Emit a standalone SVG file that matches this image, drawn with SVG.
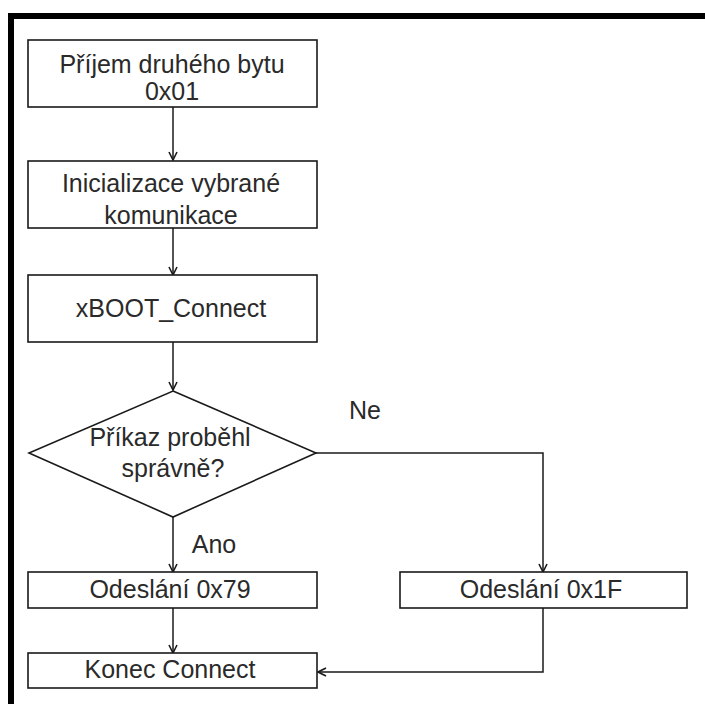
<svg xmlns="http://www.w3.org/2000/svg" width="705" height="704" viewBox="0 0 705 704">
  <style>
    .box { fill: #ffffff; stroke: #1a1a1a; stroke-width: 1.6; }
    .lbl { font-family: "Liberation Sans", Arial, sans-serif; font-size: 25px; fill: #2a2a2a; text-anchor: middle; }
    .wire { fill: none; stroke: #1a1a1a; stroke-width: 1.5; }
  </style>
  <defs>
    <marker id="arrow" viewBox="0 0 10 10" refX="9" refY="5" markerWidth="10" markerHeight="10" markerUnits="userSpaceOnUse" orient="auto">
      <path d="M1,1 L9,5 L1,9" fill="none" stroke="#1a1a1a" stroke-width="1.6"/>
    </marker>
  </defs>

  <rect width="705" height="704" fill="#ffffff"/>

  <!-- outer frame: thick top and left rules -->
  <g id="frame" fill="#000000">
    <rect x="8" y="13" width="697" height="6"/>
    <rect x="8" y="13" width="6" height="691"/>
  </g>

  <!-- connectors -->
  <g id="connectors" class="wire">
    <line x1="173" y1="107" x2="173" y2="160" marker-end="url(#arrow)"/>
    <line x1="173" y1="228" x2="173" y2="275" marker-end="url(#arrow)"/>
    <line x1="173" y1="342" x2="173" y2="390" marker-end="url(#arrow)"/>
    <line x1="173" y1="517" x2="173" y2="572" marker-end="url(#arrow)"/>
    <polyline points="316,453 543,453 543,572" marker-end="url(#arrow)"/>
    <line x1="173" y1="608" x2="173" y2="653" marker-end="url(#arrow)"/>
    <polyline points="543,608 543,672 318,672" marker-end="url(#arrow)"/>
  </g>

  <g id="prijem">
    <rect class="box" x="28" y="40" width="289" height="67"/>
    <text class="lbl" x="172" y="73">Příjem druhého bytu</text>
    <text class="lbl" x="172" y="100">0x01</text>
  </g>

  <g id="inicializace">
    <rect class="box" x="28" y="161" width="289" height="67"/>
    <text class="lbl" x="171" y="192">Inicializace vybrané</text>
    <text class="lbl" x="171" y="224">komunikace</text>
  </g>

  <g id="xboot-connect">
    <rect class="box" x="28" y="275" width="289" height="67"/>
    <text class="lbl" x="171" y="317">xBOOT_Connect</text>
  </g>

  <g id="decision">
    <polygon class="box" points="173,391 316,453 173,517 29,453" stroke-width="1.3"/>
    <text class="lbl" x="170" y="446">Příkaz proběhl</text>
    <text class="lbl" x="173" y="477">správně?</text>
  </g>

  <g id="label-ne">
    <text class="lbl" x="365" y="419">Ne</text>
  </g>

  <g id="label-ano">
    <text class="lbl" x="214" y="553">Ano</text>
  </g>

  <g id="odeslani-79">
    <rect class="box" x="28" y="572" width="289" height="36"/>
    <text class="lbl" x="170" y="598">Odeslání 0x79</text>
  </g>

  <g id="odeslani-1f">
    <rect class="box" x="400" y="572" width="287" height="36"/>
    <text class="lbl" x="541" y="598">Odeslání 0x1F</text>
  </g>

  <g id="konec-connect">
    <rect class="box" x="28" y="653" width="289" height="35"/>
    <text class="lbl" x="170" y="678">Konec Connect</text>
  </g>
</svg>
